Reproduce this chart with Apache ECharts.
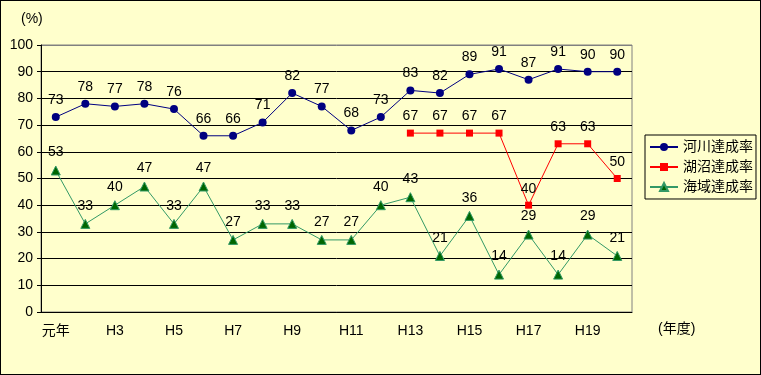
<!DOCTYPE html>
<html><head><meta charset="utf-8">
<script src="https://cdn.jsdelivr.net/npm/echarts@6/dist/echarts.min.js"></script>
<style>html,body{margin:0;padding:0;background:#FFFFCC}#c{width:761px;height:375px;box-sizing:border-box;border:1px solid #000}</style>
</head><body><div id="c"></div>
<script>
const categories = ['元年','H2','H3','H4','H5','H6','H7','H8','H9','H10','H11','H12','H13','H14','H15','H16','H17','H18','H19','H20'];
const riverRate = [73,78,77,78,76,66,66,71,82,77,68,73,83,82,89,91,87,91,90,90];
const lakeRate = [null,null,null,null,null,null,null,null,null,null,null,null,67,67,67,67,40,63,63,50];
const seaRate = [53,33,40,47,33,47,27,33,33,27,27,40,43,21,36,14,29,14,29,21];
const yTicks = [0,10,20,30,40,50,60,70,80,90,100];

const font = '"Liberation Sans", "Noto Sans CJK JP", sans-serif';
const chart = echarts.init(document.getElementById('c'));
const lbl = {show:true, position:'top', distance:6, color:'#000', fontSize:14, fontFamily:font};
const gridColors = yTicks.map((v,i)=> i===yTicks.length-1 ? '#808080' : '#000');
chart.setOption({
  backgroundColor:'#FFFFCC',
  animation:false,
  textStyle:{fontFamily:font},
  grid:{left:40, top:44, right:128, bottom:62, show:true, borderColor:'#808080', borderWidth:1},
  title:[{text:'(%)', left:15, top:6, textStyle:{fontSize:14, fontWeight:'normal', color:'#000', fontFamily:font}},
         {text:'(年度)', left:652, top:316, textStyle:{fontSize:14, fontWeight:'normal', color:'#000', fontFamily:font}}],
  legend:{orient:'vertical', left:644, top:134, padding:[5,3,5,4], itemGap:6, itemWidth:28, itemHeight:10,
    borderColor:'#000', borderWidth:1, textStyle:{fontSize:14, color:'#000', fontFamily:font},
    data:['河川達成率','湖沼達成率','海域達成率']},
  xAxis:{type:'category', data:categories, boundaryGap:true,
    axisLine:{lineStyle:{color:'#000'}},
    axisTick:{inside:true, length:4, lineStyle:{color:'#000'}, interval:0},
    axisLabel:{interval:1, color:'#000', fontSize:14, margin:12, fontFamily:font}},
  yAxis:{type:'value', min:yTicks[0], max:yTicks[yTicks.length-1], interval:10,
    axisLine:{show:true, lineStyle:{color:'#000'}},
    axisTick:{show:true, length:4, lineStyle:{color:'#000'}},
    axisLabel:{color:'#000', fontSize:14, margin:8, fontFamily:font},
    splitLine:{lineStyle:{color:gridColors, width:1}}},
  series:[
    {name:'河川達成率', type:'line', data:riverRate, symbol:'circle', symbolSize:8,
     lineStyle:{color:'#000080', width:1}, itemStyle:{color:'#000080'}, label:lbl},
    {name:'湖沼達成率', type:'line', data:lakeRate, symbol:'rect', symbolSize:7,
     lineStyle:{color:'#FF0000', width:1}, itemStyle:{color:'#FF0000'}, label:lbl},
    {name:'海域達成率', type:'line', data:seaRate, symbol:'triangle', symbolSize:9,
     lineStyle:{color:'#339966', width:1}, itemStyle:{color:'#006600', borderColor:'#339966', borderWidth:1}, label:lbl}
  ]
});
</script></body></html>
